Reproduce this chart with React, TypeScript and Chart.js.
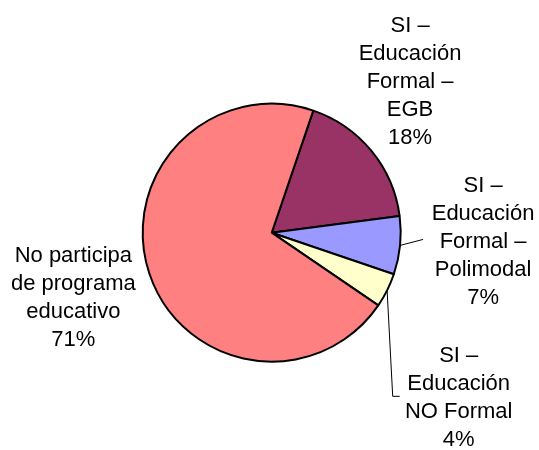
import React, { useEffect, useRef } from "react";
import { Chart, registerables } from "chart.js";

Chart.register(...registerables);

// Data (order: clockwise from the top-right slice)
const categories: string[][] = [
  ["SI –", "Educación", "Formal –", "EGB"],
  ["SI –", "Educación", "Formal –", "Polimodal"],
  ["SI –", "Educación", "NO Formal"],
  ["No participa", "de programa", "educativo"],
];
const values: number[] = [17.7, 7.3, 4.3, 70.7];
const colors: string[] = ["#993366", "#9999FF", "#FFFFCC", "#FF8080"];

// Label placement relative to each slice's outer mid point (style only)
const labelOffsets: [number, number][] = [
  [38.6, -71],
  [83, -5],
  [71.6, 106],
  [-76, 22],
];
// leader line: [dx, dy] from label centre for points after the slice mid point
const leaders: ([number, number][] | null)[] = [
  null,
  [[-60, -1]],
  [[-66, 0], [-59, 0]],
  null,
];

const FONT = "22px 'Liberation Sans', Arial, sans-serif";
const LINE_H = 28;

const labelPlugin = {
  id: "pieLabels",
  afterDatasetsDraw(chart: any) {
    const ctx = chart.ctx;
    const meta = chart.getDatasetMeta(0);
    const total = values.reduce((a, b) => a + b, 0);
    ctx.save();
    meta.data.forEach((arc: any, i: number) => {
      const { x, y, startAngle, endAngle, outerRadius } = arc.getProps(
        ["x", "y", "startAngle", "endAngle", "outerRadius"],
        true
      );
      const mid = (startAngle + endAngle) / 2;
      const ox = x + outerRadius * Math.cos(mid);
      const oy = y + outerRadius * Math.sin(mid);
      const cx = ox + labelOffsets[i][0];
      const cy = oy + labelOffsets[i][1];
      const lines = [...categories[i], Math.round((values[i] / total) * 100) + "%"];
      // leader line
      const ld = leaders[i];
      if (ld) {
        ctx.beginPath();
        ctx.strokeStyle = "#000";
        ctx.lineWidth = 1;
        ctx.moveTo(ox, oy);
        ld.forEach(([dx, dy]) => ctx.lineTo(cx + dx, cy + dy));
        ctx.stroke();
      }
      ctx.fillStyle = "#000";
      ctx.font = FONT;
      ctx.textAlign = "center";
      ctx.textBaseline = "alphabetic";
      const n = lines.length;
      const firstBaseline = cy + 8 - ((n - 1) * LINE_H) / 2;
      lines.forEach((t, k) => ctx.fillText(t, cx, firstBaseline + k * LINE_H));
    });
    ctx.restore();
  },
};

export default function App() {
  const ref = useRef<HTMLCanvasElement | null>(null);
  useEffect(() => {
    if (!ref.current) return;
    const chart = new Chart(ref.current, {
      type: "pie",
      data: {
        labels: categories.map((c) => c.join(" ")),
        datasets: [
          {
            data: values,
            backgroundColor: colors,
            borderColor: "#000",
            borderWidth: 2,
          },
        ],
      },
      options: {
        responsive: false,
        animation: false,
        rotation: 18.8,
        radius: 129,
        layout: { padding: { left: 4.4, right: 0, top: 15.4, bottom: 0 } },
        plugins: {
          legend: { display: false },
          tooltip: { enabled: false },
        },
      },
      plugins: [labelPlugin],
    });
    return () => chart.destroy();
  }, []);
  return (
    <div style={{ position: "fixed", left: 0, top: 0, width: 539, height: 450, background: "#fff" }}>
      <canvas ref={ref} width={539} height={450} />
    </div>
  );
}
